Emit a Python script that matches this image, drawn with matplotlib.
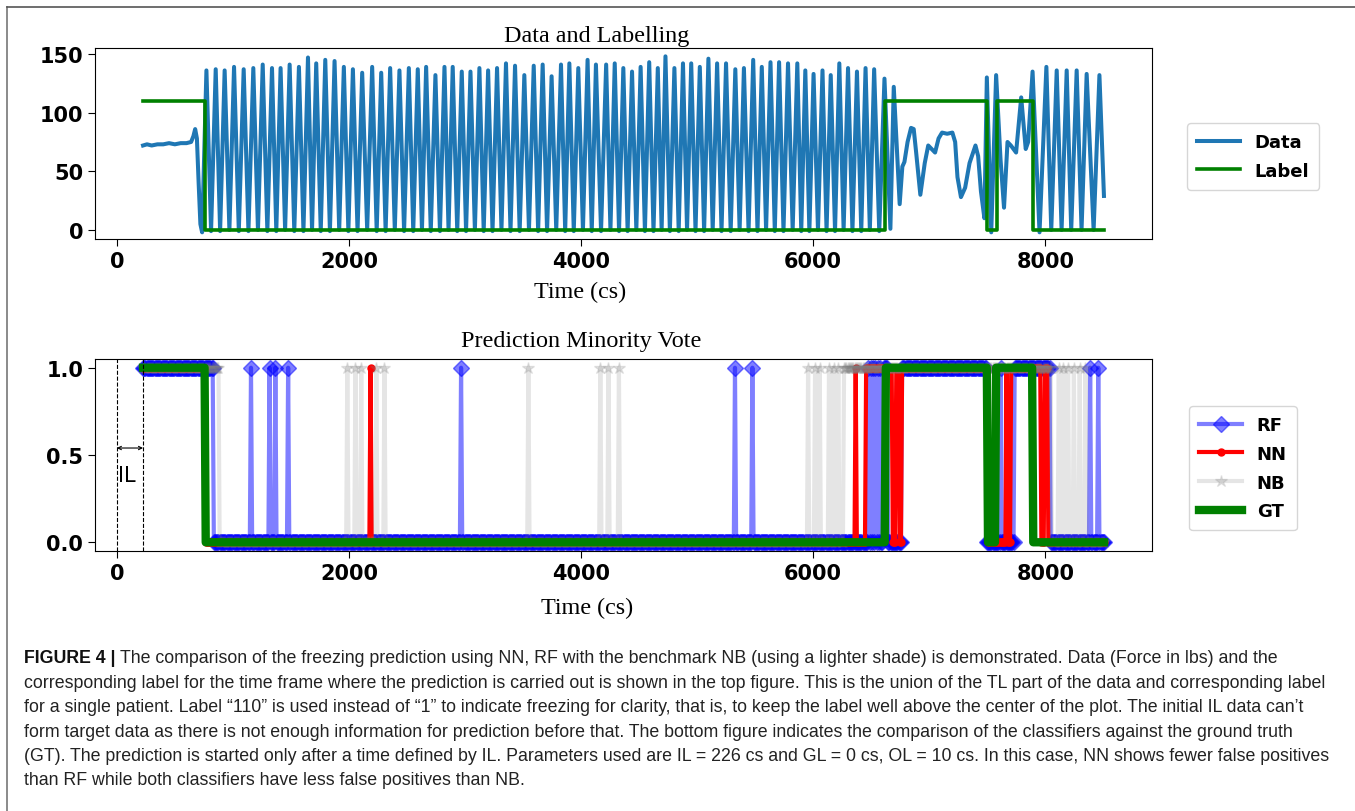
import numpy as np
import matplotlib
matplotlib.use('Agg')
import matplotlib.pyplot as plt
from matplotlib.lines import Line2D

# ---- top panel: force signal (lbs) vs time (cs) ----
start_t = [226, 260, 300, 350, 400, 450, 500, 550, 600, 640, 660, 675, 690, 705, 720, 735]
start_v = [72, 73, 72, 73, 73, 74, 73, 74, 74, 75, 80, 86, 78, 40, 5, -2]

peak_t = [772, 852, 929, 1010, 1093, 1176, 1257, 1337, 1411, 1489, 1569, 1647, 1718, 1796, 1876,
          1956, 2034, 2114, 2200, 2278, 2355, 2435, 2516, 2593, 2665, 2745, 2823, 2894, 2972, 3047,
          3124, 3199, 3276, 3353, 3431, 3511, 3592, 3669, 3746, 3827, 3899, 3976, 4056, 4128,
          4216, 4290, 4364, 4439, 4513, 4587, 4661, 4727, 4804, 4878, 4949, 5023, 5097, 5172, 5249,
          5329, 5403, 5483, 5557, 5632, 5706, 5783, 5863, 5932, 6003, 6080, 6151, 6225, 6300, 6377,
          6451, 6525, 6614, 6694]
peak_v = [136, 137, 136, 139, 137, 138, 141, 138, 138, 141, 139, 147, 142, 145, 144,
          139, 137, 134, 139, 134, 138, 136, 138, 137, 139, 132, 139, 139, 135, 135,
          138, 136, 138, 142, 140, 132, 140, 141, 131, 141, 142, 138, 145, 141,
          141, 142, 138, 135, 139, 143, 138, 148, 138, 142, 142, 139, 146, 142, 142,
          137, 138, 145, 139, 143, 143, 142, 142, 136, 133, 136, 132, 142, 138, 135,
          138, 137, 129, 122]

trough_t = [812, 890, 970, 1051, 1134, 1216, 1297, 1374, 1450, 1529, 1608, 1682, 1757, 1836, 1916,
            1995, 2074, 2157, 2239, 2316, 2395, 2475, 2554, 2629, 2705, 2784, 2858, 2933, 3009, 3085,
            3161, 3237, 3314, 3392, 3471, 3551, 3630, 3707, 3786, 3863, 3937, 4016, 4092, 4172,
            4253, 4327, 4401, 4476, 4550, 4624, 4694, 4765, 4841, 4913, 4986, 5060, 5134, 5210, 5289,
            5366, 5443, 5520, 5594, 5669, 5744, 5823, 5897, 5967, 6041, 6115, 6188, 6262, 6338, 6414,
            6488, 6569, 6665]
trough_v = [-1, -1, 0, -1, -1, 0, -1, -1, 0, -1, -1, 0, -1, -1, 0,
            -1, -1, 0, -1, -1, 0, -1, -1, 0, -1, -1, 0, -1, -1, 0,
            -1, -1, 0, -1, -1, 0, -1, -1, 0, -1, -1, 0, -1, -1,
            0, -1, -1, 0, -1, -1, 0, -1, -1, 0, -1, -1, 0, -1, -1,
            0, -1, -1, 0, -1, -1, 0, -1, -1, 0, -1, -1, 0, -1, -1,
            0, -1, 1]

tail_t = [6745, 6768, 6786, 6813, 6843, 6866, 6887, 6923, 6961, 6991, 7021, 7050, 7080, 7110, 7154,
          7199, 7223, 7243, 7273, 7309, 7347, 7398, 7421, 7445, 7475, 7496, 7534, 7576, 7614, 7644,
          7674, 7703, 7748, 7792, 7831, 7852, 7890, 7950, 8009, 8051, 8098, 8140, 8184, 8223, 8270,
          8312, 8356, 8416, 8466, 8505]
tail_v = [22, 54, 58, 75, 87, 86, 66, 30, 57, 72, 69, 66, 78, 83, 82,
          83, 75, 45, 28, 36, 57, 72, 63, 33, 10, 130, -2, 132, 60, 19,
          75, 72, 66, 113, 69, 75, 135, -2, 139, 0, 136, 0, 136, 0, 136,
          0, 133, 0, 132, 29]

label_t = [226, 760, 6620, 7496, 7585, 7890, 8505]
label_v = [110, 0, 110, 0, 110, 0, 0]

# ---- bottom panel: predictions (1 = freezing) ----
IL = 226
OL = 10
t_end = 8506

gt_on = [(226, 765), (6620, 7496), (7570, 7890)]
rf_on = [(226, 830), (6600, 6640), (6760, 7490), (7730, 8040)]
rf_spikes = [1160, 1320, 1370, 1480, 2970, 5330, 5480, 6480, 6500, 6520, 6540, 6560, 6580,
             7620, 8390, 8460]
nn_on = [(226, 760), (6450, 6680), (6710, 6740), (6760, 7500), (7700, 7960), (7990, 8020)]
nn_spikes = [2190, 6370, 7670]
nb_on = [(226, 880), (6260, 8050)]
nb_spikes = [1985, 2060, 2110, 2240, 2305, 3550, 4170, 4240, 4330,
             5960, 6020, 6060, 6140, 6180, 6220, 8120, 8160, 8200, 8250, 8300, 8350]


def to_series(t, spans, spikes=()):
    y = np.zeros(len(t))
    for a, b in spans:
        y[(t >= a) & (t <= b)] = 1
    for s in spikes:
        y[np.argmin(np.abs(t - s))] = 1
    return y


pred_t = np.arange(IL, t_end + 1, OL)
gt = to_series(pred_t, gt_on)
rf = to_series(pred_t, rf_on, rf_spikes)
nn = to_series(pred_t, nn_on, nn_spikes)
nb = to_series(pred_t, nb_on, nb_spikes)

data_t = np.concatenate([start_t, peak_t, trough_t, tail_t])
data_v = np.concatenate([start_v, peak_v, trough_v, tail_v])
order = np.argsort(data_t)
data_t, data_v = data_t[order], data_v[order]

W, H = 1355, 812
fig = plt.figure(figsize=(W / 100, H / 100), dpi=100)
serif = 'Liberation Serif'
leg_kw = dict(loc='upper left', bbox_transform=fig.transFigure, borderaxespad=0,
              prop={'weight': 'bold', 'size': 13}, handlelength=2.4, borderpad=0.55, labelspacing=0.6)

ax1 = fig.add_axes([95 / W, 1 - 240 / H, 1057 / W, 191 / H])
ax1.plot(data_t, data_v, color='#1f77b4', lw=2.9, label='Data')
ax1.plot(label_t, label_v, color='green', lw=2.6, drawstyle='steps-post', label='Label')
ax1.set_xlim(-188, 8919)
ax1.set_ylim(-7.7, 155.1)
ax1.set_xticks([0, 2000, 4000, 6000, 8000])
ax1.set_yticks([0, 50, 100, 150])
ax1.set_title('Data and Labelling', family=serif, fontsize=17.4, x=0.475, pad=5)
ax1.set_xlabel('Time (cs)', family=serif, fontsize=17.4, labelpad=7)
ax1.xaxis.label.set_x(0.459)
ax1.legend(bbox_to_anchor=(1187 / W, 1 - 124 / H), **leg_kw)

ax2 = fig.add_axes([95 / W, 1 - 552 / H, 1057 / W, 192 / H])
ax2.plot(pred_t, rf, color='blue', alpha=0.5, lw=3, marker='D', ms=8.5, label='RF')
ax2.plot(pred_t, nn, color='red', lw=3, marker='.', ms=10, label='NN')
ax2.plot(pred_t, nb, color='gray', alpha=0.2, lw=3, marker='*', ms=9, label='NB')
ax2.plot(pred_t, gt, color='green', lw=6, label='GT')
ax2.axvline(0, color='k', ls='--', lw=0.8)
ax2.axvline(IL, color='k', ls='--', lw=0.8)
ax2.annotate('', xy=(0, 0.54), xytext=(IL, 0.54),
             arrowprops=dict(arrowstyle='<->', lw=0.8, shrinkA=0, shrinkB=0, mutation_scale=6))
ax2.text(10, 0.385, 'IL', fontsize=15, va='center', ha='left')
ax2.set_xlim(-188, 8919)
ax2.set_ylim(-0.05, 1.05)
ax2.set_xticks([0, 2000, 4000, 6000, 8000])
ax2.set_yticks([0.0, 0.5, 1.0])
ax2.set_yticklabels(['0.0', '0.5', '1.0'])
ax2.set_title('Prediction Minority Vote', family=serif, fontsize=17.4, x=0.46, pad=9)
ax2.set_xlabel('Time (cs)', family=serif, fontsize=17.4, labelpad=10)
ax2.xaxis.label.set_x(0.466)
ax2.legend(bbox_to_anchor=(1189 / W, 1 - 407 / H), **leg_kw)

for ax in (ax1, ax2):
    ax.tick_params(labelsize=15, length=5)
    for lab in ax.get_xticklabels() + ax.get_yticklabels():
        lab.set_fontweight('bold')

# page frame
fig.add_artist(Line2D([7 / W, 7 / W], [0, 1 - 8 / H], transform=fig.transFigure, color='#777777', lw=1.2))
fig.add_artist(Line2D([7 / W, 1], [1 - 8 / H, 1 - 8 / H], transform=fig.transFigure, color='#555555', lw=1.2))

# caption
cap_font = ['Liberation Sans Narrow', 'Liberation Sans']
cap_size = 12.8
cap_lines = [
    'The comparison of the freezing prediction using NN, RF with the benchmark NB (using a lighter shade) is demonstrated. Data (Force in lbs) and the',
    'corresponding label for the time frame where the prediction is carried out is shown in the top figure. This is the union of the TL part of the data and corresponding label',
    'for a single patient. Label \u201c110\u201d is used instead of \u201c1\u201d to indicate freezing for clarity, that is, to keep the label well above the center of the plot. The initial IL data can\u2019t',
    'form target data as there is not enough information for prediction before that. The bottom figure indicates the comparison of the classifiers against the ground truth',
    '(GT). The prediction is started only after a time defined by IL. Parameters used are IL = 226 cs and GL = 0 cs, OL = 10 cs. In this case, NN shows fewer false positives',
    'than RF while both classifiers have less false positives than NB.',
]
x0 = 24 / W
head = fig.text(x0, 1 - 659 / H, 'FIGURE 4 | ', family=cap_font, fontsize=cap_size, weight='bold',
                va='center', color='#111111')
renderer = fig.canvas.get_renderer()
hx = head.get_window_extent(renderer).x1 / W
for i, line in enumerate(cap_lines):
    y = 1 - (659 + 24.4 * i) / H
    fig.text(hx if i == 0 else x0, y, line, family=cap_font, fontsize=cap_size, va='center', color='#222222')

fig.savefig('out.png', dpi=100)
